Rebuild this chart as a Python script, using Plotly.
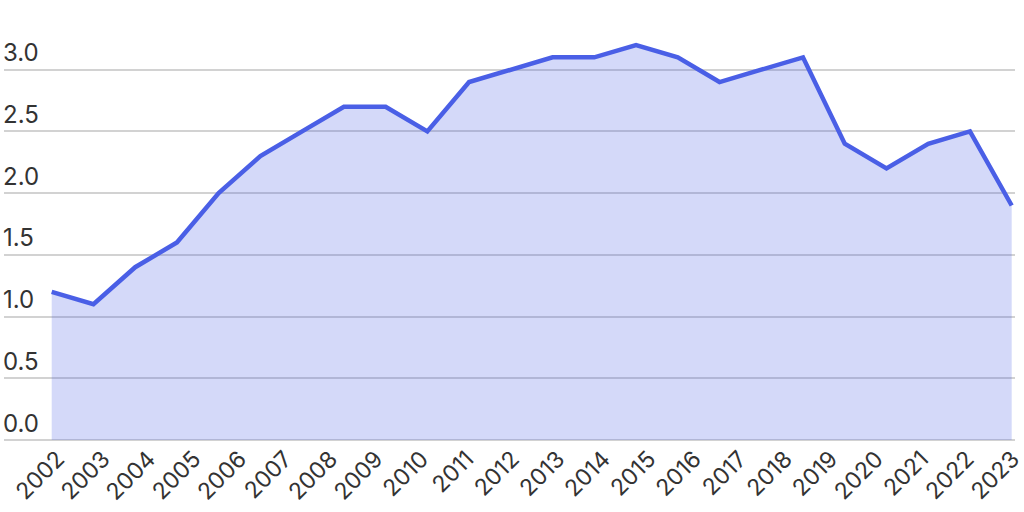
import plotly.graph_objects as go

# tick labels on the horizontal axis
years = [str(y) for y in range(2002, 2024)]
# series values (24 observations spread across the labelled span)
values = [1.2, 1.1, 1.4, 1.6, 2.0, 2.3, 2.5, 2.7, 2.7, 2.5, 2.9, 3.0,
          3.1, 3.1, 3.2, 3.1, 2.9, 3.0, 3.1, 2.4, 2.2, 2.4, 2.5, 1.9]
y_ticks = [0.0, 0.5, 1.0, 1.5, 2.0, 2.5, 3.0, 3.5]

LINE = "#4a5fe6"
FILL = "rgba(74,95,230,0.24)"
GRID = "#d2d2d2"
TEXT = "#333333"
FONT = "Inter, Roboto, sans-serif"

n = len(values)
idx = list(range(n))

fig = go.Figure()
fig.add_trace(go.Scatter(
    x=idx, y=values, mode="lines",
    line=dict(color=LINE, width=4.5),
    fill="tozeroy", fillcolor=FILL,
    showlegend=False, hoverinfo="skip",
))
# invisible trace carrying the year labels axis
fig.add_trace(go.Scatter(
    x=list(range(len(years))), y=[None] * len(years), xaxis="x2",
    mode="markers", marker=dict(opacity=0), showlegend=False, hoverinfo="skip",
))

# plot area spans 4..1015 px; data spans ~51.7..1011.7, labels ~57.7..1012.7
plot_w = 1011.0
d_left, d_right = 47.7, 3.3
l_left, l_right = 53.7, 2.3
step1 = (plot_w - d_left - d_right) / (n - 1)
step2 = (plot_w - l_left - l_right) / (len(years) - 1)

fig.update_layout(
    width=1024, height=512,
    margin=dict(l=4, r=9, t=8, b=72, autoexpand=False),
    paper_bgcolor="white", plot_bgcolor="white",
    font=dict(family=FONT, color=TEXT),
    xaxis=dict(
        range=[-d_left / step1, (n - 1) + d_right / step1],
        showticklabels=False, showgrid=False, zeroline=False,
        showline=False, ticks="", automargin=False,
    ),
    xaxis2=dict(
        overlaying="x", side="bottom", anchor="y",
        range=[-l_left / step2, (len(years) - 1) + l_right / step2],
        tickvals=list(range(len(years))), ticktext=years,
        tickangle=-45, tickfont=dict(size=23, color=TEXT, family=FONT),
        showgrid=False, zeroline=False, showline=False, ticks="",
        automargin=False, ticklabeloverflow="allow",
    ),
    yaxis=dict(
        range=[0, 3.5], tickvals=y_ticks,
        ticktext=[f"{v:.1f}" for v in y_ticks],
        ticklabelposition="inside top", ticklabelstandoff=-4,
        tickfont=dict(size=24, color=TEXT, family=FONT),
        showgrid=True, gridcolor=GRID, gridwidth=1.5,
        zeroline=True, zerolinecolor=GRID, zerolinewidth=1.5,
        showline=False, ticks="", automargin=False,
        ticklabeloverflow="allow",
    ),
)

fig.write_html(
    "out.html",
    config={"displayModeBar": False},
    post_script="document.body.style.margin='0';document.body.style.overflow='hidden';",
)
